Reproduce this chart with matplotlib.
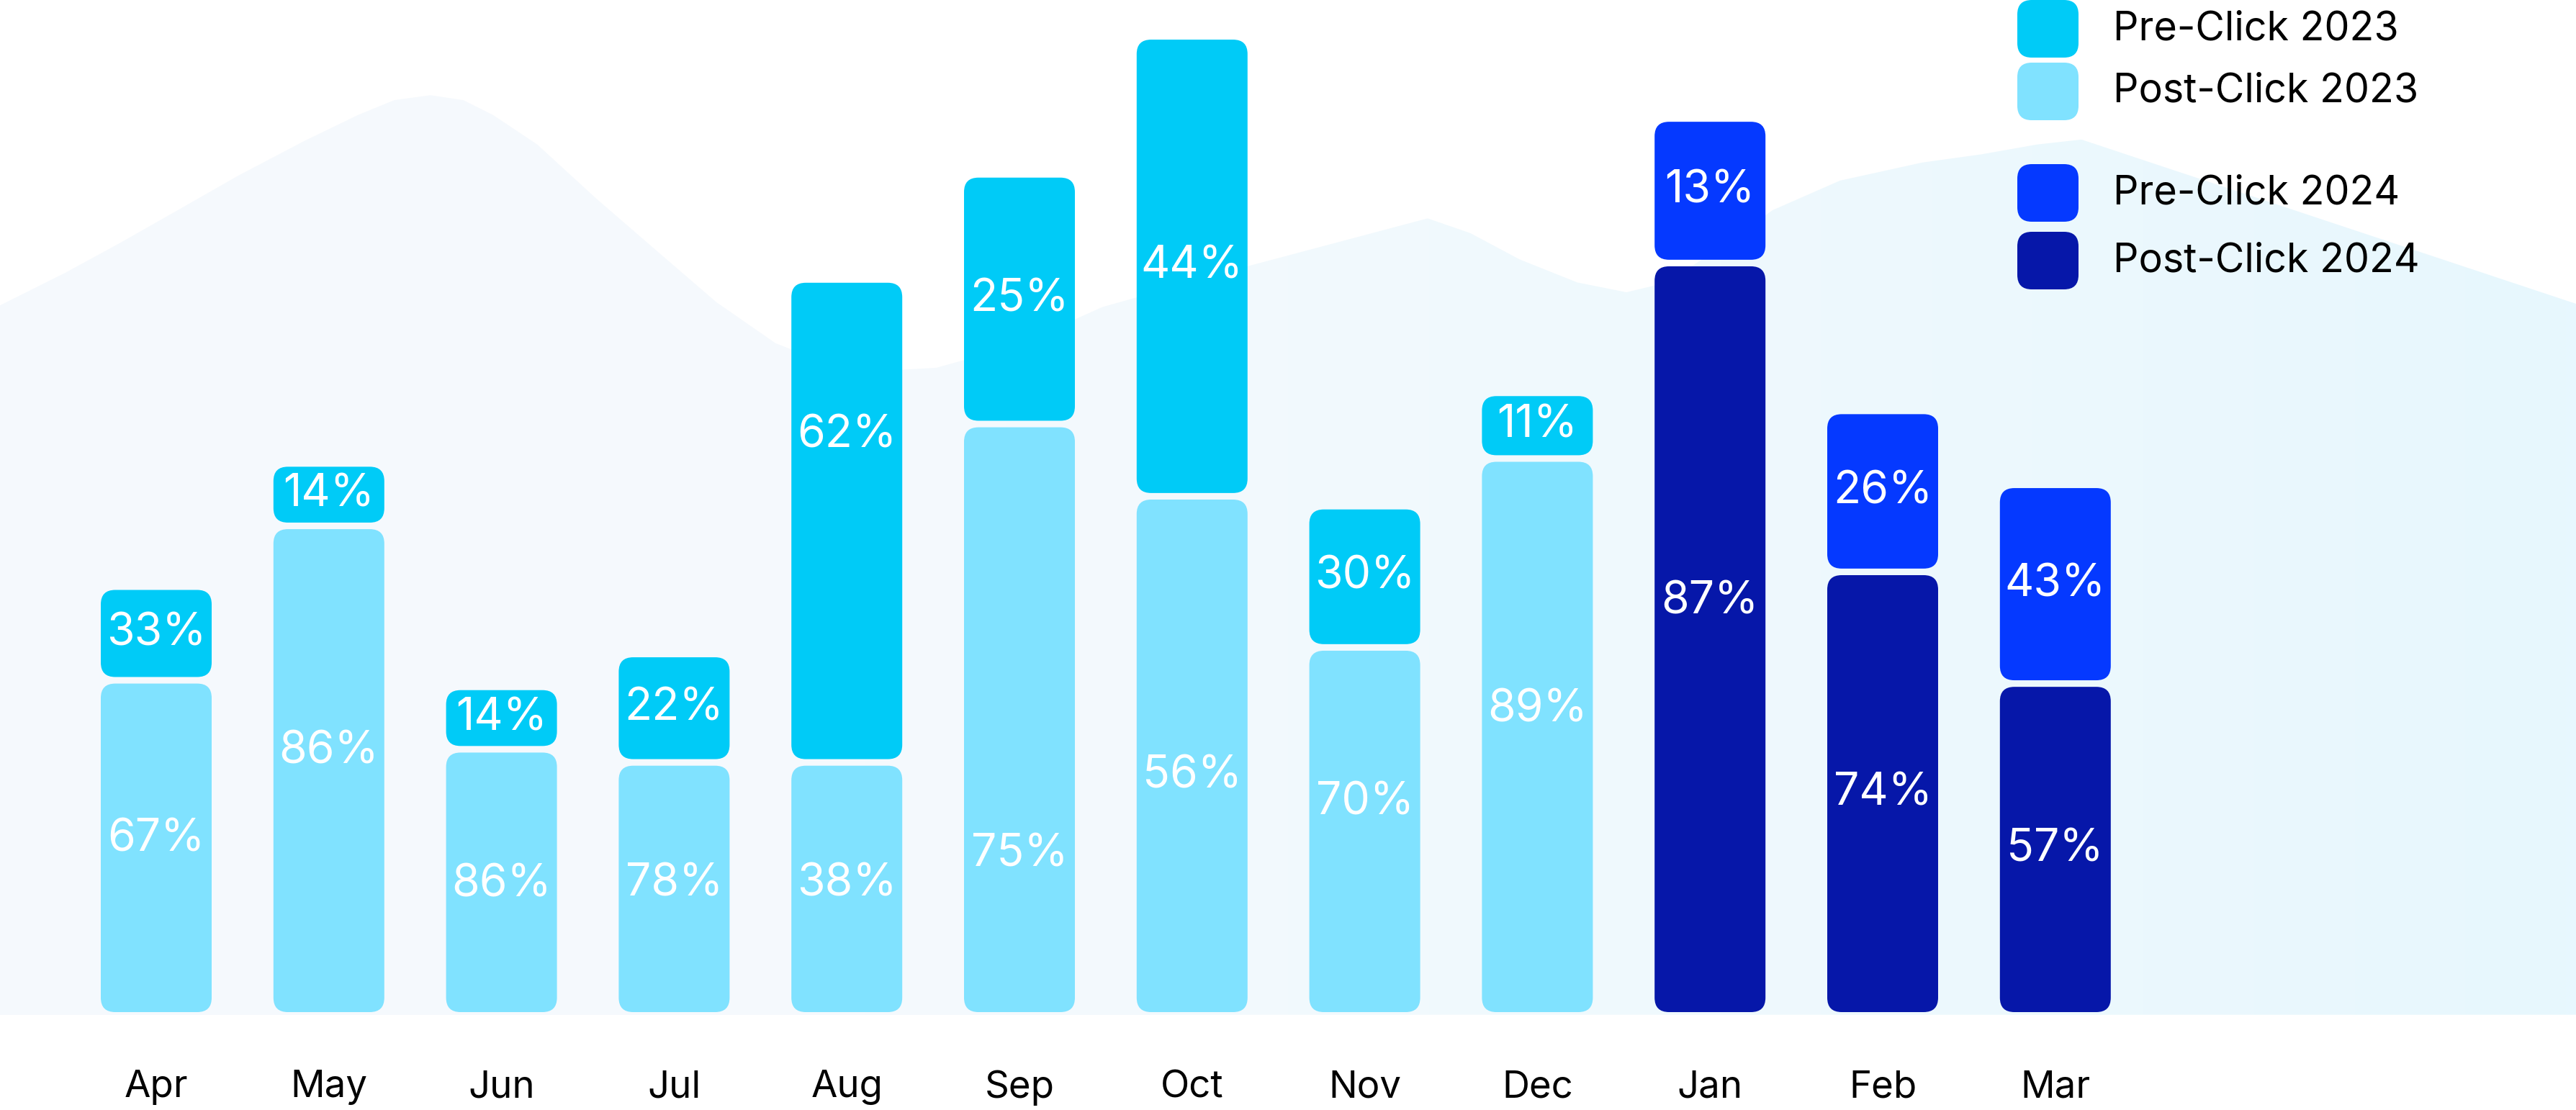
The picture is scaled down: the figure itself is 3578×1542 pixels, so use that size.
import matplotlib.pyplot as plt
import numpy as np
from matplotlib.patches import FancyBboxPatch, Polygon
from matplotlib.colors import LinearSegmentedColormap

plt.rcParams['font.family'] = ['Inter', 'DejaVu Sans']

# data
months = ['Apr', 'May', 'Jun', 'Jul', 'Aug', 'Sep', 'Oct', 'Nov', 'Dec', 'Jan', 'Feb', 'Mar']
years = [2023] * 9 + [2024] * 3
# bar segment lengths (relative volume)
post_click = [202, 296, 160, 152, 152, 358, 314, 222, 337, 456, 268, 200]
pre_click = [55, 36, 36, 64, 292, 150, 278, 84, 38, 86, 96, 119]
# shares printed on the segments
pre_pct = [33, 14, 14, 22, 62, 25, 44, 30, 11, 13, 26, 43]
post_pct = [67, 86, 86, 78, 38, 75, 56, 70, 89, 87, 74, 57]

series = ['Pre-Click 2023', 'Post-Click 2023', 'Pre-Click 2024', 'Post-Click 2024']
colors = {('pre', 2023): '#00cbf7', ('post', 2023): '#80e2ff',
          ('pre', 2024): '#0539ff', ('post', 2024): '#0617a9'}

# label placement inside segments (fraction from segment top)
pre_lab_pos = [0.5, 0.5, 0.5, 0.5, 0.32, 0.5, 0.5, 0.5, 0.5, 0.5, 0.5, 0.5]
post_lab_pos = [0.475, 0.46, 0.51, 0.48, 0.48, 0.73, 0.54, 0.42, 0.45, 0.45, 0.50, 0.50]

W, H = 3578, 1542
fig = plt.figure(figsize=(W / 100, H / 100), dpi=100)
ax = fig.add_axes([0, 0, 1, 1])

step = 239.8   # px between bars
x0 = 217       # px of first bar centre
unit = 2.282   # px per value unit
base = 1406    # px of baseline from top
ax.set_xlim(-x0 / step, (W - x0) / step)
ax.set_ylim(-(H - base) / unit, base / unit)
ax.axis('off')


def to_data(px, py):
    # from 1568-wide preview coordinates to data coordinates
    return ((np.asarray(px) * W / 1568 - x0) / step, base / unit - np.asarray(py) * H / 676 / unit)


# background hills
bot = 618
hill_a = [(0, 186), (40, 166), (73, 148), (110, 127), (145, 107), (185, 86), (218, 70), (240, 61),
          (262, 58), (282, 61), (300, 70), (327, 88), (363, 121), (400, 153), (436, 184),
          (472, 209), (510, 224), (560, 240), (700, 300), (700, bot), (0, bot)]
hill_b = [(0, 330), (300, 262), (480, 229), (570, 224), (620, 210), (671, 187), (760, 162),
          (869, 133), (895, 142), (925, 158), (960, 172), (990, 178), (1015, 172), (1045, 152),
          (1079, 128), (1120, 110), (1170, 99), (1206, 94), (1240, 88), (1267, 85),
          (1568, 185), (1568, bot), (0, bot)]
xa, ya = to_data(*zip(*hill_a))
ax.add_patch(Polygon(np.column_stack([xa, ya]), closed=True, facecolor='#f5f9fd',
                     edgecolor='none', zorder=0))
xb, yb = to_data(*zip(*hill_b))
poly_b = Polygon(np.column_stack([xb, yb]), closed=True, facecolor='none', edgecolor='none', zorder=1)
ax.add_patch(poly_b)
cmap = LinearSegmentedColormap.from_list('bg', ['#f5f9fd', '#f5f9fd', '#eff9fd', '#e7f7fe'])
grad = np.linspace(0, 1, 256).reshape(1, -1)
im = ax.imshow(grad, cmap=cmap, aspect='auto', zorder=1,
               extent=[xb.min(), xb.max(), yb.min(), yb.max()])
im.set_clip_path(poly_b)
ax.set_xlim(-x0 / step, (W - x0) / step)
ax.set_ylim(-(H - base) / unit, base / unit)

# bars
width = 154 / step
gap = 4.0
m_aspect = step / unit
r = 20 / step
for i, m in enumerate(months):
    yr = years[i]
    segs = [(0, post_click[i], colors[('post', yr)], post_pct[i], post_lab_pos[i]),
            (post_click[i], pre_click[i], colors[('pre', yr)], pre_pct[i], pre_lab_pos[i])]
    for k, (y0, h, c, pct, lp) in enumerate(segs):
        lo = y0 + (gap / 2 if k == 1 else 0)
        hi = y0 + h - (gap / 2 if k == 0 else 0)
        ax.add_patch(FancyBboxPatch((i - width / 2, lo), width, hi - lo,
                                    boxstyle=f'round,pad=0,rounding_size={r}',
                                    mutation_aspect=m_aspect, facecolor=c,
                                    edgecolor='none', zorder=3))
        ax.text(i, hi - lp * (hi - lo), f'{pct}%', ha='center', va='center',
                color='white', fontsize=45, zorder=4)
    ax.text(i, -46, m, ha='center', va='center', fontsize=38, color='black')

# legend
leg_keys = [('pre', 2023), ('post', 2023), ('pre', 2024), ('post', 2024)]
leg_top = [0, 87, 228, 322]
for name, key, t in zip(series, leg_keys, leg_top):
    ax.add_patch(FancyBboxPatch((2802 / W, 1 - (t + 80) / H), 85 / W, 80 / H,
                                boxstyle=f'round,pad=0,rounding_size={20 / W}',
                                mutation_aspect=W / H, transform=ax.transAxes,
                                facecolor=colors[key], edgecolor='none', zorder=5))
    ax.text(2935 / W, 1 - (t + 40) / H, name, transform=ax.transAxes, ha='left',
            va='center', fontsize=40, color='black', zorder=5)

fig.savefig('out.png', dpi=100, facecolor='white')
plt.close(fig)
